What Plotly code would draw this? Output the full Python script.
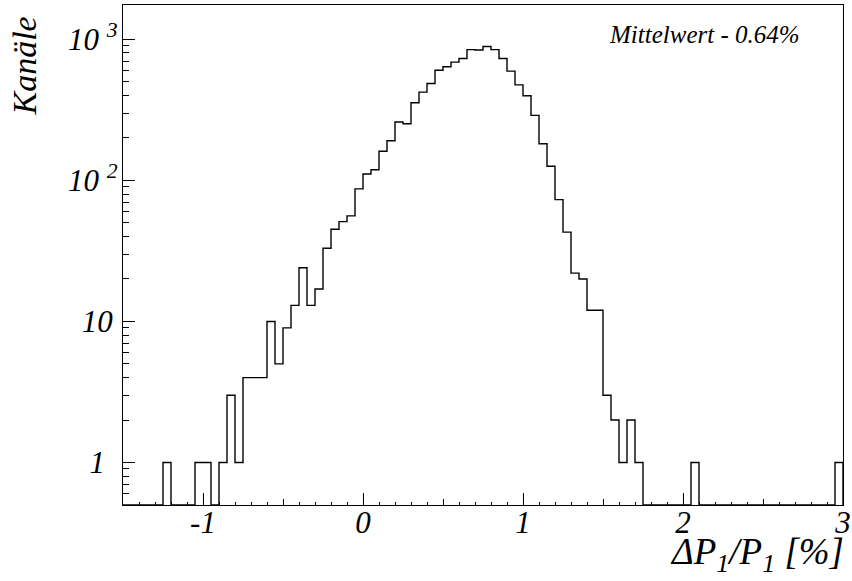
import numpy as np
import plotly.graph_objects as go

# ---- data ----
bin_low = -1.5
bin_width = 0.05
counts = [0, 0, 0, 0, 0, 1, 0, 0, 0, 1,
          1, 0, 1, 3, 1, 4, 4, 4, 10, 5,
          9, 13, 24, 13, 17, 33, 45, 51, 56, 87,
          111, 119, 161, 191, 259, 252, 355, 422, 486, 604,
          638, 689, 730, 845, 840, 888, 845, 730, 595, 475,
          398, 289, 182, 126, 73, 43, 22, 20, 12, 12,
          3, 2, 1, 2, 1, 0, 0, 0, 0, 0,
          0, 1, 0, 0, 0, 0, 0, 0, 0, 0,
          0, 0, 0, 0, 0, 0, 0, 0, 0, 1]
x_tick_vals = [-1, 0, 1, 2, 3]
x_tick_text = ["-1", "0", "1", "2", "3"]
y_tick_vals = [1, 10, 100, 1000]
y_tick_text = ["1\u00a0\u00a0\u200a", "10\u00a0\u200a",
               "10 <sup>2\u00a0</sup>", "10 <sup>3\u00a0</sup>"]
y_title = "Kanäle"
x_title = "ΔP<sub>1</sub>/P<sub>1</sub> [%]"
note = "Mittelwert - 0.64%"

x_range = [-1.5, 3.0]
y_range = [0.5, 1750]

# ---- build step outline ----
n = len(counts)
edges = bin_low + bin_width * np.arange(n + 1)
floor = y_range[0]
vals = np.array([c if c > 0 else floor for c in counts], dtype=float)
xs = np.concatenate([[edges[0]], edges, [edges[-1]]])
ys = np.concatenate([[floor], vals, [vals[-1]], [floor]])

font_family = "Liberation Serif"
log_range = [np.log10(y_range[0]), np.log10(y_range[1])]

fig = go.Figure()
fig.add_trace(go.Scatter(x=xs, y=ys, mode="lines", line_shape="hv",
                         line=dict(color="black", width=1.4),
                         showlegend=False, hoverinfo="skip"))
# helper trace so the secondary tick/label axes render
fig.add_trace(go.Scatter(x=[edges[0]], y=[vals[0]], xaxis="x2", yaxis="y2", mode="markers",
                         marker=dict(opacity=0), showlegend=False, hoverinfo="skip"))

minor_x = list(np.round(np.arange(-1.5, 3.0001, 0.1), 3))
minor_y = []
for dec in [0.1, 1, 10, 100]:
    for k in range(2, 10):
        v = k * dec
        if y_range[0] <= v <= y_range[1]:
            minor_y.append(v)

fig.update_layout(
    width=852, height=581,
    margin=dict(l=123, r=9, t=5, b=76),
    paper_bgcolor="white", plot_bgcolor="white",
    font=dict(family=font_family, color="black"),
    xaxis=dict(
        range=x_range, showgrid=False, zeroline=False, automargin=False,
        showline=True, linecolor="black", linewidth=1, mirror=True,
        ticks="inside", ticklen=12, tickwidth=1, tickcolor="black",
        tickvals=x_tick_vals, ticktext=["<i>%s</i>" % t for t in x_tick_text],
        tickfont=dict(family=font_family, size=31, color="black"),
        ticklabelstandoff=-10,
        minor=dict(tickvals=minor_x, ticks="inside", ticklen=3, tickcolor="black", tickwidth=1),
    ),
    xaxis2=dict(
        range=x_range, overlaying="x", anchor="y", side="bottom", automargin=False,
        showgrid=False, zeroline=False, showline=False,
        ticks="inside", ticklen=6, tickwidth=1, tickcolor="black",
        tickvals=list(np.arange(-1.5, 3.01, 0.5)), showticklabels=False,
    ),
    yaxis=dict(
        type="log", range=log_range,
        showgrid=False, zeroline=False, automargin=False,
        showline=True, linecolor="black", linewidth=1, mirror=True,
        ticks="inside", ticklen=12, tickwidth=1, tickcolor="black",
        tickvals=y_tick_vals, showticklabels=False,
        minor=dict(tickvals=minor_y, ticks="inside", ticklen=6, tickcolor="black", tickwidth=1),
    ),
    yaxis2=dict(
        type="log", range=log_range, overlaying="y", anchor="free", position=0,
        side="left", showgrid=False, zeroline=False, automargin=False,
        showline=False, ticks="",
        tickvals=y_tick_vals, ticktext=["<i>%s</i>" % t for t in y_tick_text],
        tickfont=dict(family=font_family, size=31, color="black"),
    ),
    annotations=[
        dict(text="<i>%s</i>" % y_title, xref="paper", yref="paper",
             x=(24 - 123) / 720, y=(505 - 14) / 500, xanchor="center", yanchor="top",
             textangle=-90, showarrow=False,
             font=dict(family=font_family, size=34, color="black")),
        dict(text="<i>%s</i>" % x_title, xref="paper", yref="paper",
             x=(846 - 123) / 720, y=-(580 - 505) / 500, xanchor="right", yanchor="bottom",
             showarrow=False,
             font=dict(family=font_family, size=37, color="black")),
        dict(text="<i>%s</i>" % note, xref="paper", yref="paper",
             x=(607 - 123) / 720, y=(505 - 34) / 500, xanchor="left", yanchor="middle",
             showarrow=False,
             font=dict(family=font_family, size=25, color="black")),
    ],
)

fig.write_html("out.html", config={"displayModeBar": False},
               post_script="document.body.style.margin='0px';")
